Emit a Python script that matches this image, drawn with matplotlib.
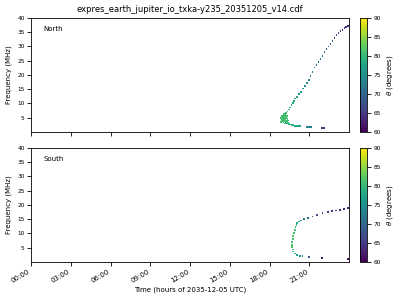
import matplotlib
matplotlib.use("Agg")
import matplotlib.pyplot as plt
import numpy as np

title = "expres_earth_jupiter_io_txka-y235_20351205_v14.cdf"
xtick_hours = [0, 3, 6, 9, 12, 15, 18, 21]
xtick_labels = ["00:00", "03:00", "06:00", "09:00", "12:00", "15:00", "18:00", "21:00"]

# North hemisphere: time (hours), frequency (MHz), theta (degrees)
north_t = [23.95, 23.8, 23.65, 23.5, 23.35, 23.2, 23.05, 22.9, 22.75, 22.6, 22.45, 22.3,
           22.15, 22.0, 21.85, 21.7, 21.55, 21.4, 21.25, 21.1, 21.0, 20.85, 20.7, 20.55,
           20.4, 20.25, 20.1, 19.95, 19.85, 19.75, 19.65, 19.55, 19.45, 19.35, 19.24,
           18.95, 18.95, 18.95, 19.05, 19.05, 19.05, 19.05, 19.15, 19.15, 19.15, 19.15,
           19.25, 19.25, 19.25, 19.35, 19.35, 19.45, 19.1, 18.9, 18.9,
           18.88, 18.88, 19.0, 19.0, 19.0, 19.0, 19.1, 19.1, 19.1, 19.2, 19.2, 19.2,
           19.3, 19.3, 19.3, 19.4, 19.4, 19.5, 19.2, 19.3,
           19.55, 19.65, 19.75, 19.85, 19.95, 20.05, 20.15, 20.25, 20.35,
           20.85, 20.95, 21.05, 21.15, 21.95, 22.05, 22.15]
north_f = [37.3, 36.9, 36.4, 35.9, 35.4, 34.8, 34.0, 33.0, 31.9, 30.9, 30.0, 29.0,
           28.0, 26.6, 25.7, 24.6, 23.6, 22.6, 21.0, 19.6, 18.3, 17.3, 16.2, 15.3,
           14.1, 13.3, 12.4, 11.8, 11.0, 10.2, 9.4, 8.6, 7.9, 7.2, 6.6,
           5.5, 4.5, 3.8, 6.0, 5.0, 4.2, 3.4, 5.5, 4.6, 3.8, 3.0,
           5.0, 4.0, 3.2, 4.4, 3.0, 2.8, 6.3, 5.0, 4.2,
           4.8, 3.6, 5.8, 5.3, 4.8, 3.9, 5.8, 5.0, 4.4, 5.3, 4.6, 3.5,
           4.7, 3.7, 3.3, 4.0, 3.2, 3.0, 6.0, 5.6,
           2.6, 2.5, 2.4, 2.3, 2.2, 2.15, 2.1, 2.1, 2.05,
           1.8, 1.8, 1.8, 1.8, 1.45, 1.45, 1.45]
north_th = [64, 64.5, 65, 65.5, 66, 66.5, 67, 67.5, 68, 68.5, 69, 69.5,
            70, 70.5, 71, 71.5, 72, 72.5, 73, 73.5, 74, 74.5, 75, 75.5,
            76, 76.5, 77, 77.5, 78, 78.5, 79, 79.5, 80, 80, 80.5,
            81, 81, 81, 81, 81, 81, 81, 81, 81, 81, 80.5,
            81, 81, 80.5, 81, 80, 80, 80.5, 81, 81,
            81, 81, 81, 81, 81, 81, 81, 81, 81, 81, 81, 81,
            81, 81, 80.5, 80.5, 80.5, 80, 81, 81,
            79.5, 79, 79, 78.5, 78, 78, 77.5, 77.5, 77,
            73, 73, 73, 73, 64, 64, 64]

# South hemisphere
south_t = [23.9, 23.6, 23.3, 23.0, 22.7, 22.4, 22.0, 21.6, 21.25, 20.9, 20.6, 20.4,
           20.24, 20.1, 20.04, 19.97, 19.9, 19.85, 19.8, 19.75, 19.72, 19.7, 19.7,
           19.75, 19.8, 19.95, 20.1, 20.3, 20.5, 21.0, 21.95, 23.95]
south_f = [18.9, 18.6, 18.3, 18.05, 17.8, 17.5, 17.1, 16.6, 16.0, 15.5, 15.0, 14.6,
           14.2, 13.6, 13.05, 12.3, 11.3, 10.2, 9.0, 8.0, 7.0, 6.05, 5.2,
           4.4, 3.7, 3.0, 2.55, 2.2, 2.0, 1.75, 1.4, 1.0]
south_th = [63, 63.5, 64, 64.5, 65, 65.5, 66, 67, 68, 70, 72, 74,
            76, 78, 79, 80, 80.5, 81, 81, 81, 81, 81.5, 81.5,
            81, 80, 78, 77, 76, 74, 68, 62, 61]

fig = plt.figure(figsize=(4, 3), dpi=100)
ax1 = fig.add_axes([0.0775, 0.56, 0.795, 0.38])
ax2 = fig.add_axes([0.0775, 0.1267, 0.795, 0.38])
cax1 = fig.add_axes([0.9, 0.56, 0.0175, 0.38])
cax2 = fig.add_axes([0.9, 0.1267, 0.0175, 0.38])

fs = 5
tfs = 4.2
for ax, t, f, th, name, cax in [(ax1, north_t, north_f, north_th, "North", cax1),
                                 (ax2, south_t, south_f, south_th, "South", cax2)]:
    sc = ax.scatter(t, f, c=th, cmap="viridis", vmin=60, vmax=90, marker="s", s=1.5,
                    linewidths=0)
    ax.set_xlim(0, 24)
    ax.set_ylim(0, 40)
    ax.set_yticks([5, 10, 15, 20, 25, 30, 35, 40])
    ax.set_xticks(xtick_hours)
    ax.tick_params(labelsize=tfs, length=3, width=0.6, pad=1.5)
    ax.tick_params(axis="x", labelsize=5)
    ax.set_ylabel("Frequency (MHz)", fontsize=fs, labelpad=4)
    ax.text(0.04, 0.9, name, transform=ax.transAxes, fontsize=fs, va="center")
    for s in ax.spines.values():
        s.set_linewidth(0.6)
    cb = fig.colorbar(sc, cax=cax)
    cb.set_ticks([60, 65, 70, 75, 80, 85, 90])
    cb.ax.tick_params(labelsize=tfs, length=3, width=0.6, pad=1.5)
    cb.set_label(r"$\theta$ (degrees)", fontsize=fs, labelpad=3)
    cb.outline.set_linewidth(0.6)

ax1.set_xticklabels([])
ax2.set_xticklabels(xtick_labels, rotation=30, ha="right")
ax2.set_xlabel("Time (hours of 2035-12-05 UTC)", fontsize=fs, labelpad=2)
ax1.set_title(title, fontsize=6, pad=4)

fig.savefig("out.png", dpi=100)
